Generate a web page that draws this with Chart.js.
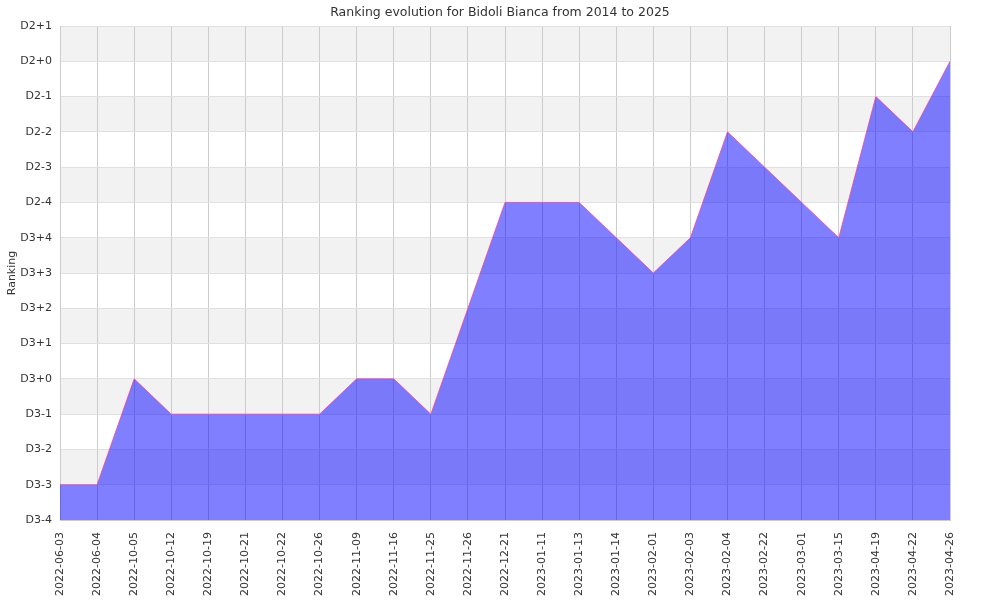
<!DOCTYPE html>
<html lang="en">
<head>
  <meta charset="UTF-8">
  <title>Ranking evolution</title>
  <script src="https://cdn.jsdelivr.net/npm/chart.js"></script>
  <style>
    html, body { margin: 0; padding: 0; background: #fff; }
    #wrap { width: 1000px; height: 600px; }
  </style>
</head>
<body>
<div id="wrap"><canvas id="grafico" width="1000" height="600"></canvas></div>
<script>
const datas = ['2022-06-03', '2022-06-04', '2022-10-05', '2022-10-12', '2022-10-19', '2022-10-21',
  '2022-10-22', '2022-10-26', '2022-11-09', '2022-11-16', '2022-11-25', '2022-11-26', '2022-12-21',
  '2023-01-11', '2023-01-13', '2023-01-14', '2023-02-01', '2023-02-03', '2023-02-04', '2023-02-22',
  '2023-03-01', '2023-03-15', '2023-04-19', '2023-04-22', '2023-04-26'];

// indice no vetor de rotulos abaixo (0 = D3-4)
const ranking = [1, 1, 4, 3, 3, 3, 3, 3, 4, 4, 3, 6, 9, 9, 9, 8, 7, 8, 11, 10, 9, 8, 12, 11, 13];

const rotulosY = ['D3-4', 'D3-3', 'D3-2', 'D3-1', 'D3+0', 'D3+1', 'D3+2', 'D3+3', 'D3+4',
  'D2-4', 'D2-3', 'D2-2', 'D2-1', 'D2+0', 'D2+1'];

Chart.defaults.font.family = '"DejaVu Sans", sans-serif';
Chart.defaults.font.size = 11;
Chart.defaults.color = '#333';

// faixas alternadas de fundo
const faixas = {
  id: 'faixas',
  beforeDraw(chart) {
    const { ctx, chartArea, scales } = chart;
    const y = scales.y;
    ctx.save();
    ctx.fillStyle = '#f2f2f2';
    for (let v = y.min; v < y.max; v++) {
      if (v % 2 === 1) {
        const top = y.getPixelForValue(v + 1);
        const bot = y.getPixelForValue(v);
        ctx.fillRect(chartArea.left, top, chartArea.right - chartArea.left, bot - top);
      }
    }
    ctx.restore();
  }
};

new Chart(document.getElementById('grafico').getContext('2d'), {
  type: 'line',
  data: {
    labels: datas,
    datasets: [{
      data: ranking,
      borderColor: 'rgba(255, 60, 120, 0.7)',
      borderWidth: 1,
      backgroundColor: 'rgba(0, 0, 255, 0.5)',
      fill: 'origin',
      pointRadius: 0,
      tension: 0
    }]
  },
  options: {
    responsive: false,
    animation: false,
    layout: { padding: 0 },
    plugins: {
      legend: { display: false },
      tooltip: { enabled: false },
      title: {
        display: true,
        text: 'Ranking evolution for Bidoli Bianca from 2014 to 2025',
        font: { size: 12.5, weight: 'normal' },
        color: '#333',
        padding: { top: 5, bottom: 6 }
      }
    },
    scales: {
      x: {
        offset: false,
        afterFit: s => { s.height = 80; },
        grid: { color: '#cccccc', drawTicks: false },
        border: { color: '#cccccc' },
        ticks: { maxRotation: 90, minRotation: 90, autoSkip: false, color: '#333', padding: 12 }
      },
      y: {
        min: 0,
        max: rotulosY.length - 1,
        afterFit: s => { s.width = 60; },
        grid: { color: '#e0e0e0', drawTicks: false },
        border: { color: '#cccccc' },
        ticks: {
          stepSize: 1,
          color: '#333',
          padding: 8,
          callback: v => rotulosY[v]
        },
        title: { display: true, text: 'Ranking', font: { size: 11 }, color: '#333', padding: 6 }
      },
      // margem direita vazia
      margem: {
        position: 'right',
        afterFit: s => { s.width = 50; },
        grid: { display: false },
        border: { display: false },
        ticks: { display: false }
      }
    }
  },
  plugins: [faixas]
});
</script>
</body>
</html>
